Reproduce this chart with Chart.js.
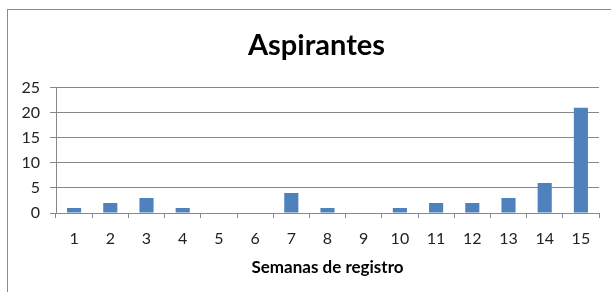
<!DOCTYPE html>
<html>
<head>
<meta charset="utf-8">
<script src="https://cdn.jsdelivr.net/npm/chart.js@4/dist/chart.umd.min.js"></script>
<style>
  html, body { margin: 0; padding: 0; background: #fff; }
  #wrap { position: relative; width: 611px; height: 292px; overflow: hidden; }
  #frame { position: absolute; left: 7px; top: 9px; width: 700px; height: 400px;
           border-left: 1px solid #8a8a8a; border-top: 1px solid #8a8a8a; }
  canvas { position: absolute; left: 0; top: 0; }
</style>
</head>
<body>
<div id="wrap">
  <div id="frame"></div>
  <canvas id="chart" width="611" height="292"></canvas>
</div>
<script>
var semanas = ['1','2','3','4','5','6','7','8','9','10','11','12','13','14','15'];
var aspirantes = [1, 2, 3, 1, 0, 0, 4, 1, 0, 1, 2, 2, 3, 6, 21];
var yTicks = [0, 5, 10, 15, 20, 25];

var gris = '#888888';
var fuente = 'Lato, "Open Sans", sans-serif';

var data = {
    labels: semanas,
    datasets: [{
        data: aspirantes,
        backgroundColor: '#4f81bd',
        borderWidth: 0,
        barPercentage: 0.78,
        categoryPercentage: 0.5
    }]
};

// the title sits a bit right of the canvas centre in the original
var moverTitulo = {
    id: 'moverTitulo',
    afterLayout: function (chart) {
        if (chart.titleBlock) {
            chart.titleBlock.left += 17;
            chart.titleBlock.right += 17;
        }
    }
};

var options = {
    responsive: false,
    animation: false,
    layout: { padding: { left: 0, right: 12, top: 0, bottom: 0 } },
    plugins: {
        legend: { display: false },
        tooltip: { enabled: false },
        title: {
            display: true,
            text: 'Aspirantes',
            color: '#000',
            font: { family: fuente, size: 29, weight: 'bold', lineHeight: 1.2 },
            padding: { top: 28, bottom: 25 }
        }
    },
    scales: {
        x: {
            offset: true,
            grid: { offset: true, drawOnChartArea: false, drawTicks: true, tickLength: 5, color: gris },
            border: { display: true, color: gris, width: 1 },
            ticks: { color: '#222', padding: 11, font: { family: fuente, size: 16 } },
            title: {
                display: true,
                text: 'Semanas de registro',
                color: '#000',
                font: { family: fuente, size: 17, weight: 'bold', lineHeight: 1.2 },
                padding: { top: 0, bottom: 14 }
            },
            afterFit: function (scale) { scale.height = 79; }
        },
        y: {
            min: 0,
            max: 25,
            afterBuildTicks: function (scale) {
                scale.ticks = yTicks.map(function (v) { return { value: v }; });
            },
            grid: { color: gris, drawTicks: true, tickLength: 6 },
            border: { display: true, color: gris, width: 1 },
            ticks: { color: '#222', padding: 10, font: { family: fuente, size: 16 } },
            afterFit: function (scale) { scale.width = 56; }
        }
    }
};

new Chart(document.getElementById('chart'), {
    type: 'bar',
    data: data,
    options: options,
    plugins: [moverTitulo]
});
</script>
</body>
</html>
